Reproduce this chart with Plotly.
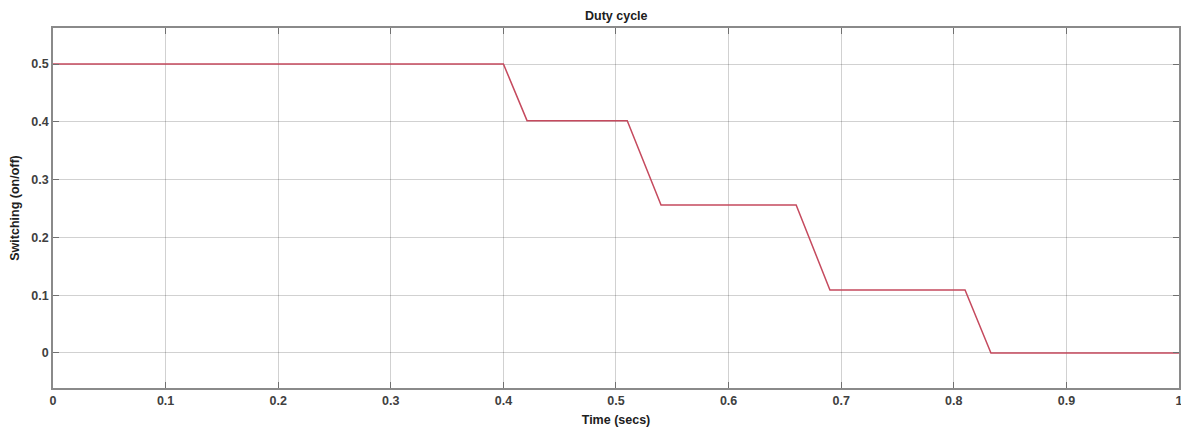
import plotly.graph_objects as go

time_s = [0.0, 0.400, 0.421, 0.510, 0.540, 0.660, 0.690, 0.810, 0.833, 1.0]
duty = [0.5, 0.5, 0.402, 0.402, 0.256, 0.256, 0.109, 0.109, 0.0, 0.0]

x_ticks = [0, 0.1, 0.2, 0.3, 0.4, 0.5, 0.6, 0.7, 0.8, 0.9, 1]
x_labels = ["0", "0.1", "0.2", "0.3", "0.4", "0.5", "0.6", "0.7", "0.8", "0.9", "1"]
y_ticks = [0, 0.1, 0.2, 0.3, 0.4, 0.5]
y_labels = ["0", "0.1", "0.2", "0.3", "0.4", "0.5"]

FONT = "Liberation Sans, Arial, sans-serif"
FS = 12.5

fig = go.Figure()
fig.add_trace(go.Scatter(x=time_s, y=duty, mode="lines",
                         line=dict(color="#c54a5e", width=1.5), showlegend=False,
                         cliponaxis=False))

axis_common = dict(
    showline=True, mirror="ticks", linecolor="#8a8a8a", linewidth=1.5,
    showgrid=True, gridcolor="rgba(0,0,0,0.18)", gridwidth=1,
    ticks="inside", ticklen=6, tickcolor="#707070", tickwidth=1,
    zeroline=False, automargin=False,
    tickfont=dict(family=FONT, size=FS, color="#404040", weight="bold"),
)

fig.update_xaxes(range=[0, 1.00001], tickvals=x_ticks, ticktext=x_labels,
                 ticklabeloverflow="allow",
                 title=dict(text="Time (secs)", standoff=8,
                            font=dict(family=FONT, size=FS, color="#202020", weight="bold")),
                 **axis_common)
fig.update_yaxes(range=[-0.0606, 0.5623], tickvals=y_ticks, ticktext=y_labels,
                 title=dict(text="Switching (on/off)", standoff=12,
                            font=dict(family=FONT, size=FS, color="#202020", weight="bold")),
                 **axis_common)

# The page body adds an 8px offset, so the figure is sized to compensate.
fig.update_layout(
    width=1181, height=425,
    margin=dict(l=45, r=10, t=20, b=45, autoexpand=False),
    paper_bgcolor="white", plot_bgcolor="white",
    annotations=[dict(text="<b>Duty cycle</b>", x=0.5, xref="paper", xanchor="center",
                      y=1, yref="paper", yanchor="bottom", yshift=3, showarrow=False,
                      font=dict(family=FONT, size=FS, color="#202020"))],
)

fig.write_html("out.html")
